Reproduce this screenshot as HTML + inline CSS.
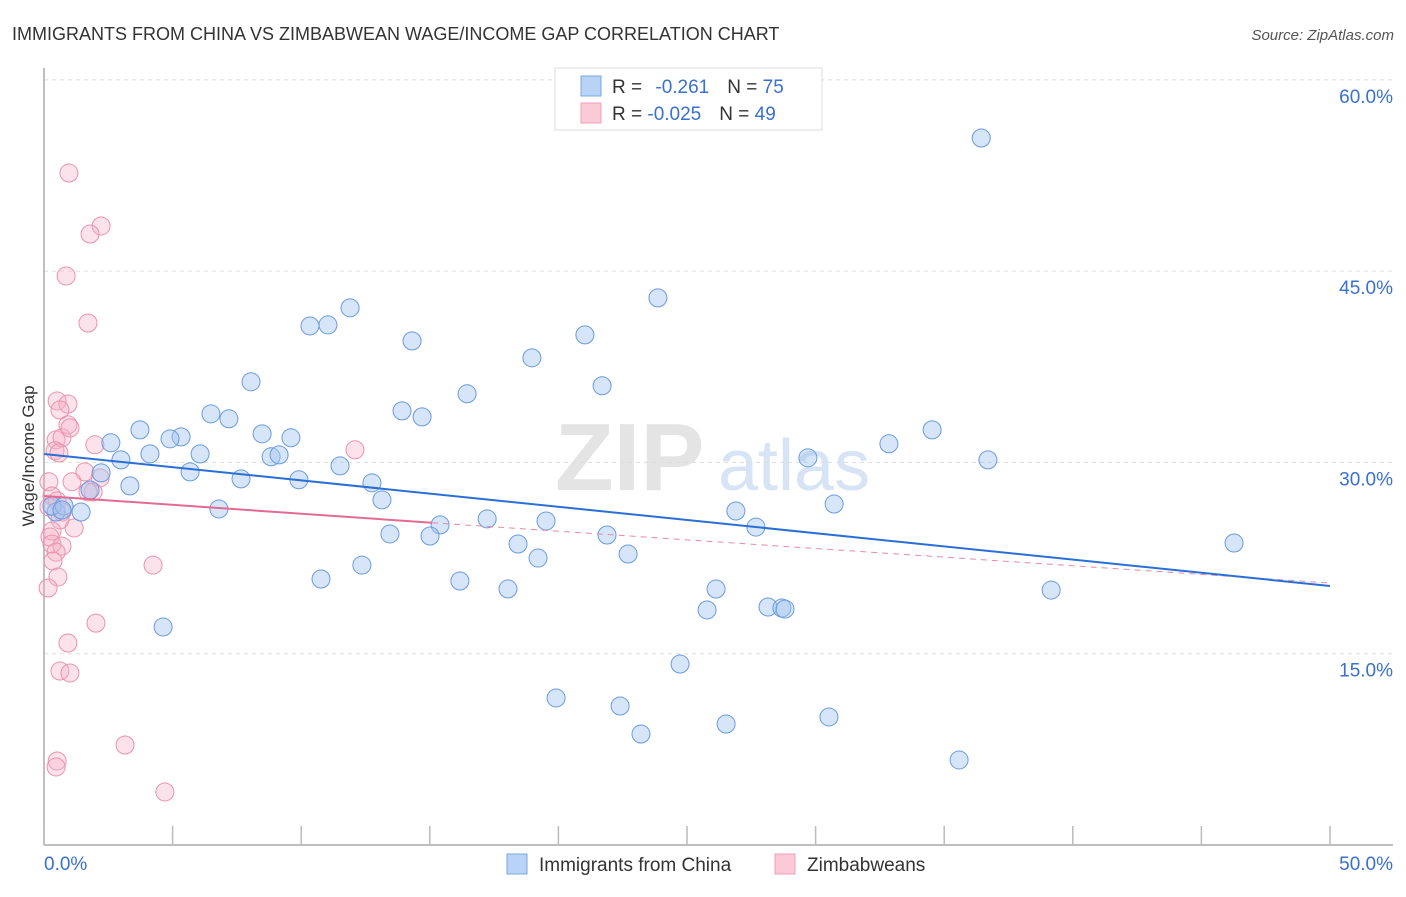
<!DOCTYPE html>
<html><head><meta charset="utf-8"><style>
body{margin:0;background:#fff;font-family:"Liberation Sans",sans-serif}
svg text{font-family:"Liberation Sans",sans-serif}
</style></head><body>
<svg id="chart" width="1406" height="892" viewBox="0 0 1406 892" xmlns="http://www.w3.org/2000/svg">
<text x="12" y="40" font-size="18" fill="#333">IMMIGRANTS FROM CHINA VS ZIMBABWEAN WAGE/INCOME GAP CORRELATION CHART</text>
<text x="1394" y="40" font-size="15" fill="#555" text-anchor="end" font-style="italic">Source: ZipAtlas.com</text>
<text x="555" y="490" font-size="96" fill="#e4e4e4" font-family="Liberation Serif" font-weight="bold">ZIP</text>
<text x="718" y="490" font-size="72" fill="#d6e4f5">atlas</text>
<g id="grid"></g>
<g id="axes"></g>
<g id="pink"></g>
<g id="blue"></g>
<g id="trends"></g>
<text transform="translate(34,456) rotate(-90)" font-size="17" fill="#333" text-anchor="middle">Wage/Income Gap</text>
<g>
<rect x="555" y="68" width="267" height="62" fill="#fff" stroke="#ddd"/>
<rect x="581" y="76" width="20" height="20" fill="#b8d3f5" stroke="#7aa7e0"/>
<rect x="581" y="103" width="20" height="20" fill="#fbc9d7" stroke="#f0a0b8"/>
<text x="612" y="93" font-size="19" fill="#333">R = <tspan fill="#3a70d0" dx="8">-0.261</tspan><tspan dx="18" fill="#333">N = </tspan><tspan fill="#3a70d0">75</tspan></text>
<text x="612" y="120" font-size="19" fill="#333">R = <tspan fill="#3a70d0">-0.025</tspan><tspan dx="18" fill="#333">N = </tspan><tspan fill="#3a70d0">49</tspan></text>
</g>
<g>
<rect x="507" y="854" width="20" height="20" fill="#b8d3f5" stroke="#7aa7e0"/>
<text x="539" y="871" font-size="19" fill="#333">Immigrants from China</text>
<rect x="775" y="854" width="20" height="20" fill="#fbc9d7" stroke="#f0a0b8"/>
<text x="807" y="871" font-size="19" fill="#333">Zimbabweans</text>
</g>
</svg>
<script>
const yTicks=[15,30,45,60];
const yTickLabels=["15.0%","30.0%","45.0%","60.0%"];
const xTicks=[0,5,10,15,20,25,30,35,40,45,50];
const chinaX=[36.44,23.87,11.90,10.34,11.04,14.31,21.03,18.97,21.70,8.05,16.45,13.92,14.70,6.49,7.19,3.73,5.33,4.90,8.48,9.60,2.60,4.12,2.99,6.07,8.83,9.14,11.51,5.68,7.66,9.91,3.34,12.75,13.14,6.80,1.44,0.47,0.31,0.78,2.22,1.79,17.23,19.52,15.40,15.01,13.45,21.89,18.43,19.21,22.71,12.36,10.77,16.17,18.04,26.90,27.68,30.72,29.70,32.85,34.53,36.70,46.27,39.16,26.13,25.78,28.15,28.69,28.81,4.63,24.73,19.91,22.40,23.21,26.52,30.52,35.58,0.70];
const chinaY=[55.44,42.90,42.12,40.70,40.78,39.53,40.00,38.20,36.01,36.32,35.38,34.04,33.57,33.81,33.42,32.55,32.00,31.85,32.24,31.93,31.54,30.67,30.20,30.67,30.44,30.59,29.73,29.26,28.71,28.64,28.16,28.40,27.06,26.35,26.11,26.11,26.58,26.58,29.18,27.84,25.57,25.41,25.10,24.23,24.39,24.31,23.60,22.50,22.82,21.95,20.86,20.70,20.08,26.19,24.93,26.74,30.36,31.46,32.55,30.20,23.68,19.99,20.07,18.43,18.66,18.58,18.50,17.09,14.19,11.53,10.90,8.70,9.49,10.04,6.67,26.27];
const zimX=[0.97,2.22,1.79,0.86,1.71,0.51,0.93,0.62,0.47,0.70,1.98,0.93,1.01,0.43,0.58,12.09,1.59,2.18,1.09,0.19,1.91,0.31,0.51,0.19,0.70,0.62,1.17,0.31,0.23,0.31,0.70,0.47,0.35,0.54,0.16,4.24,2.02,0.93,0.62,1.01,3.15,0.51,0.47,4.70,1.71];
const zimY=[52.69,48.54,47.91,44.62,40.93,34.82,34.58,34.11,31.77,31.93,31.38,32.95,32.71,30.91,30.75,30.99,29.26,28.79,28.48,28.48,27.69,27.37,26.98,26.51,26.11,25.49,24.86,24.62,24.15,23.60,23.44,22.97,22.27,21.01,20.15,21.95,17.40,15.84,13.64,13.49,7.84,6.59,6.12,4.16,27.69];
const chinaTrend=[[0,30.66],[50,20.31]];
const zimTrendSolid=[[0,27.37],[15.09,25.27]];
const zimTrendDash=[[15.09,25.27],[50,20.54]];
const NS="http://www.w3.org/2000/svg";
const X=v=>44+v/50*1286;
const Y=v=>845-v*12.753;
function mk(t,a,p){const e=document.createElementNS(NS,t);for(const k in a)e.setAttribute(k,a[k]);document.getElementById(p).appendChild(e);return e;}
yTicks.forEach((t,i)=>{
 const l=mk('line',{x1:44,x2:1393,y1:Y(t),y2:Y(t),stroke:'#ddd','stroke-dasharray':'4,4'},'grid');
 
 
 const tx=mk('text',{x:1393,y:Y(t)+23,'font-size':19,fill:'#3a70d0','text-anchor':'end'},'axes');
 tx.textContent=yTickLabels[i];
 
 
});
const ya=mk('line',{x1:44,x2:44,y1:68,y2:845,stroke:'#aaa','stroke-width':1.5},'axes');


const xa=mk('line',{x1:44,x2:1393,y1:845,y2:845,stroke:'#aaa','stroke-width':1.5},'axes');


xTicks.forEach(t=>{
 const l=mk('line',{x1:X(t),x2:X(t),y1:826,y2:845,stroke:'#bbb','stroke-width':1.5},'axes');
 
 
});
[[0,'0.0%','start',44],[50,'50.0%','end',1393]].forEach(d=>{
 const tx=mk('text',{x:d[3],y:870,'font-size':19,fill:'#3a70d0','text-anchor':d[2]},'axes');
 tx.textContent=d[1];
 
 
});
zimX.forEach((v,i)=>{
 const c=mk('circle',{cx:X(v),cy:Y(zimY[i]),r:9,fill:'rgba(247,175,197,0.35)',stroke:'#ec92ad','stroke-width':1},'pink');
 
 
});
chinaX.forEach((v,i)=>{
 const c=mk('circle',{cx:X(v),cy:Y(chinaY[i]),r:9,fill:'rgba(165,198,240,0.45)',stroke:'#6a9be0','stroke-width':1},'blue');
 
 
});
function tl(pts,col,w,dash,name){
 const l=mk('line',{x1:X(pts[0][0]),y1:Y(pts[0][1]),x2:X(pts[1][0]),y2:Y(pts[1][1]),stroke:col,'stroke-width':w},'trends');
 if(dash)l.setAttribute('stroke-dasharray',dash);
 
 
}
tl(zimTrendDash,'#e88aa5',1,'6,5','zimbabwean-trend-dashed');
tl(chinaTrend,'#2a6fd6',2,null,'china-trend-line');
tl(zimTrendSolid,'#e56a92',2,null,'zimbabwean-trend-line');
</script>
</body></html>
